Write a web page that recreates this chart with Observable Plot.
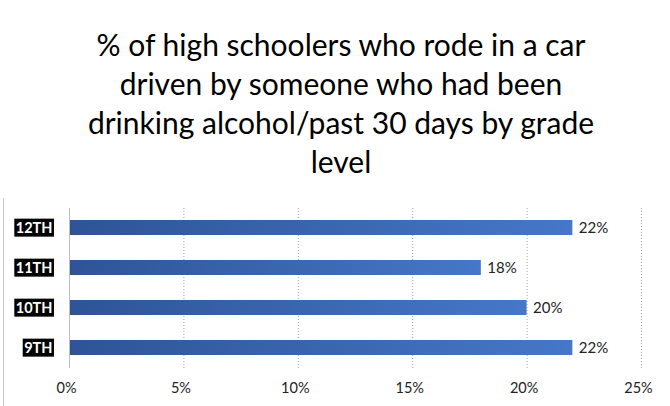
<!DOCTYPE html>
<html><head><meta charset="utf-8">
<script src="https://cdn.jsdelivr.net/npm/d3@7"></script>
<script src="https://cdn.jsdelivr.net/npm/@observablehq/plot@0.6"></script>
<style>
body{margin:0;background:#fff;width:670px;height:406px;overflow:hidden;position:relative;}
#title{font-family:Lato,"Open Sans",sans-serif;font-size:30px;line-height:39px;text-align:center;color:#000;padding-top:25px;padding-left:12px;height:160px;box-sizing:content-box;}
#border{position:absolute;left:3px;top:198px;width:1px;height:208px;background:#c8c8c8;}
#chart{height:221px;}
</style></head><body>
<div id="title">% of high schoolers who rode in a car<br>driven by someone who had been<br>drinking alcohol/past 30 days by grade<br>level</div>
<div id="border"></div>
<div id="chart"></div>
<script>
const grades = ["12TH","11TH","10TH","9TH"];
const values = [22,18,20,22];
const xTicks = [0,5,10,15,20,25];
const data = grades.map((g,i)=>({grade:g,value:values[i]}));

const plot = Plot.plot({
  width:670, height:221,
  marginTop:23, marginBottom:38, marginLeft:69, marginRight:29,
  style:{fontFamily:"Lato, 'Open Sans', sans-serif", fontSize:"14px", color:"#222", background:"transparent"},
  x:{domain:[0,25], ticks:xTicks, tickFormat:d=>d+"%", label:null},
  y:{domain:grades, paddingInner:0.62, paddingOuter:0.31, label:null},
  marks:[
    Plot.gridX(xTicks.filter(d=>d>0),{stroke:"#a6a6a6",strokeOpacity:1,strokeDasharray:"1,2",strokeWidth:1}),
    Plot.barX(data,{x:"value",y:"grade",fill:"url(#bargrad)"}),
    Plot.ruleX([0],{stroke:"#bfbfbf",strokeWidth:1}),
    Plot.text(data,{x:"value",y:"grade",text:d=>d.value+"%",textAnchor:"start",dx:6,fill:"#222",fontSize:15}),
    Plot.axisX({ticks:xTicks,tickFormat:d=>d+"%",tickSize:0,tickPadding:14,fontSize:14.5,dx:-3}),
    Plot.axisY({tickSize:0,tickPadding:17,fontWeight:"bold",fontSize:14,fill:"#fff",className:"yax"})
  ]
});
document.getElementById("chart").appendChild(plot);
const svg = d3.select(plot);
const defs = svg.insert("defs",":first-child");
const g = defs.append("linearGradient").attr("id","bargrad").attr("x1","0%").attr("x2","100%").attr("y1","0").attr("y2","0");
g.append("stop").attr("offset","0%").attr("stop-color","#2e5496");
g.append("stop").attr("offset","100%").attr("stop-color","#4677c8");
// black boxes behind y tick labels
svg.selectAll("[aria-label='y-axis tick label'] text").each(function(){
  const t=this;
  t.style.fontSize="14.5px";
  const b=t.getBBox();
  const r=document.createElementNS("http://www.w3.org/2000/svg","rect");
  r.setAttribute("x",b.x-1.5); r.setAttribute("y",b.y);
  r.setAttribute("width",b.width+3); r.setAttribute("height",b.height+1);
  r.setAttribute("fill","#000");
  const tr=t.getAttribute("transform"); if(tr) r.setAttribute("transform",tr);
  t.parentNode.insertBefore(r,t);
});
</script>
</body></html>
